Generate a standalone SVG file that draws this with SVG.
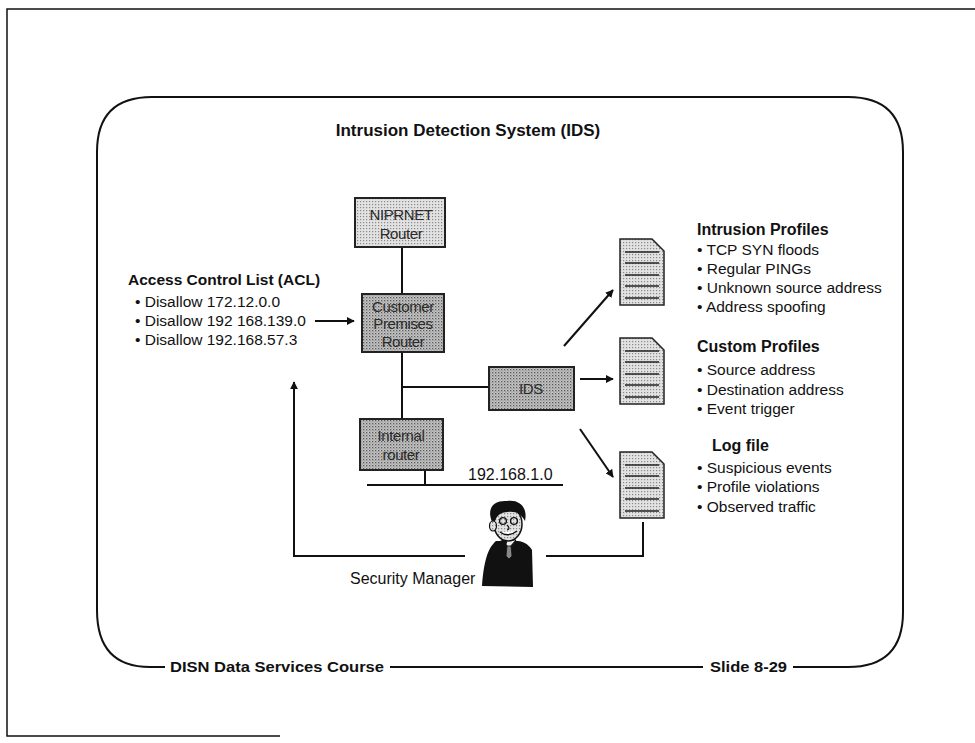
<svg xmlns="http://www.w3.org/2000/svg" width="975" height="743" viewBox="0 0 975 743">
  <style>
    text { font-family: "Liberation Sans", Arial, sans-serif; fill: #111; }
    .b { font-weight: bold; }
    .a { font-size: 15.5px; }
    .ah { font-size: 15.5px; font-weight: bold; }
    .r { font-size: 15.5px; }
    .rh { font-size: 16px; font-weight: bold; }
    .box text { font-size: 15px; text-anchor: middle; fill: #2a2a2a; letter-spacing: -0.4px; }
    .ln { stroke: #111; stroke-width: 2; fill: none; }
    .pg { stroke: #222; stroke-width: 1.5; fill: url(#dots); }
    .rl { stroke: #222; stroke-width: 1.6; }
  </style>
  <defs>
    <pattern id="dots" width="3" height="3" patternUnits="userSpaceOnUse">
      <rect width="3" height="3" fill="#e2e2e2"/>
      <rect x="0" y="0" width="1.2" height="1.2" fill="#8a8a8a"/>
    </pattern>
    <pattern id="dotsDark" width="3" height="3" patternUnits="userSpaceOnUse">
      <rect width="3" height="3" fill="#c4c4c4"/>
      <rect x="0" y="0" width="1.3" height="1.3" fill="#5a5a5a"/>
      <rect x="1.5" y="1.5" width="1" height="1" fill="#7a7a7a"/>
    </pattern>
    <marker id="ah" viewBox="0 0 10 10" refX="9" refY="5" markerWidth="8" markerHeight="8" orient="auto" markerUnits="userSpaceOnUse">
      <path d="M0,0 L10,5 L0,10 z" fill="#111"/>
    </marker>
  </defs>

  <rect width="975" height="743" fill="#fff"/>

  <!-- page frame -->
  <g id="frame" class="ln">
    <path d="M975,9 H7 V736 H280" stroke-width="1.5"/>
  </g>

  <!-- slide border with gaps for footer texts -->
  <g id="slide-border" class="ln" stroke-width="2.2">
    <path d="M165,667 H150 Q97,667 97,610 V152 Q97,97 152,97 H848 Q903,97 903,152 V612 Q903,667 848,667 H793"/>
    <line x1="390" y1="667" x2="703" y2="667"/>
  </g>

  <text x="468" y="136" class="b" font-size="17" text-anchor="middle">Intrusion Detection System (IDS)</text>

  <!-- connectors -->
  <g id="connectors">
    <line class="ln" x1="402" y1="247" x2="402" y2="294"/>
    <line class="ln" x1="402" y1="352" x2="402" y2="419"/>
    <line class="ln" x1="402" y1="387" x2="489" y2="387"/>
    <line class="ln" x1="425" y1="470" x2="425" y2="485"/>
    <line class="ln" x1="367" y1="485" x2="563" y2="485"/>
    <line class="ln" x1="315" y1="321" x2="354" y2="321" marker-end="url(#ah)"/>
    <line class="ln" x1="564" y1="346" x2="613" y2="290" marker-end="url(#ah)"/>
    <line class="ln" x1="580" y1="379" x2="613" y2="379" marker-end="url(#ah)"/>
    <line class="ln" x1="580" y1="429" x2="613" y2="477" marker-end="url(#ah)"/>
    <path class="ln" d="M465,556 H294 V382" marker-end="url(#ah)"/>
    <path class="ln" d="M546,556 H643 V522"/>
  </g>

  <!-- routers and IDS -->
  <g id="niprnet-router" class="box">
    <rect x="355" y="198" width="90" height="49" fill="url(#dots)" stroke="#222" stroke-width="2"/>
    <text x="401" y="220">NIPRNET</text>
    <text x="401" y="239">Router</text>
  </g>
  <g id="cpe-router" class="box">
    <rect x="362" y="294" width="82" height="58" fill="url(#dotsDark)" stroke="#222" stroke-width="2"/>
    <text x="403" y="312">Customer</text>
    <text x="403" y="329">Premises</text>
    <text x="403" y="347">Router</text>
  </g>
  <g id="ids" class="box">
    <rect x="489" y="367" width="85" height="43" fill="url(#dotsDark)" stroke="#222" stroke-width="2"/>
    <text x="531" y="394">IDS</text>
  </g>
  <g id="internal-router" class="box">
    <rect x="360" y="419" width="83" height="51" fill="url(#dotsDark)" stroke="#222" stroke-width="2"/>
    <text x="401" y="441">Internal</text>
    <text x="401" y="460">router</text>
  </g>
  <text x="468" y="480" font-size="16">192.168.1.0</text>

  <!-- ACL -->
  <g id="acl">
    <text x="128" y="285" class="ah">Access Control List (ACL)</text>
    <text x="135" y="307" class="a">• Disallow 172.12.0.0</text>
    <text x="135" y="326" class="a">• Disallow 192 168.139.0</text>
    <text x="135" y="345" class="a">• Disallow 192.168.57.3</text>
  </g>

  <!-- profile documents -->
  <g id="doc-intrusion" transform="translate(620,239)">
    <path class="pg" d="M0,0 H32 L44,12 V66 H0 Z"/>
    <path class="rl" d="M5,13 H39 M5,24 H39 M5,36 H39 M5,47 H39 M5,59 H39"/>
  </g>
  <g id="doc-custom" transform="translate(620,338)">
    <path class="pg" d="M0,0 H32 L44,12 V66 H0 Z"/>
    <path class="rl" d="M5,13 H39 M5,24 H39 M5,36 H39 M5,47 H39 M5,59 H39"/>
  </g>
  <g id="doc-log" transform="translate(620,452)">
    <path class="pg" d="M0,0 H32 L44,12 V66 H0 Z"/>
    <path class="rl" d="M5,13 H39 M5,24 H39 M5,36 H39 M5,47 H39 M5,59 H39"/>
  </g>

  <g id="intrusion-profiles">
    <text x="697" y="235" class="rh">Intrusion Profiles</text>
    <text x="697" y="255" class="r">• TCP SYN floods</text>
    <text x="697" y="274" class="r">• Regular PINGs</text>
    <text x="697" y="293" class="r">• Unknown source address</text>
    <text x="697" y="312" class="r">• Address spoofing</text>
  </g>
  <g id="custom-profiles">
    <text x="697" y="352" class="rh">Custom Profiles</text>
    <text x="697" y="375" class="r">• Source address</text>
    <text x="697" y="395" class="r">• Destination address</text>
    <text x="697" y="414" class="r">• Event trigger</text>
  </g>
  <g id="log-file">
    <text x="712" y="451" class="rh">Log file</text>
    <text x="697" y="473" class="r">• Suspicious events</text>
    <text x="697" y="492" class="r">• Profile violations</text>
    <text x="697" y="512" class="r">• Observed traffic</text>
  </g>

  <!-- security manager -->
  <g id="security-manager">
    <!-- suit -->
    <path d="M496,541 C488,548 484,560 482,586 L533,587 L532,550 C528,543 520,540 512,541 Z" fill="#111"/>
    <!-- collar and tie -->
    <path d="M502,540 L509,548 L516,540 Z" fill="#eee" stroke="#111" stroke-width="1"/>
    <path d="M507,546 L511,546 L512,556 L509,559 L506,556 Z" fill="#888" stroke="#111" stroke-width="0.8"/>
    <!-- face -->
    <ellipse cx="508" cy="524" rx="14" ry="17" fill="url(#dots)" stroke="#111" stroke-width="1.5"/>
    <!-- hair -->
    <path d="M492,522 C486,507 495,500 507,501 C519,499 528,507 525,521 C521,514 516,511 508,512 C500,512 496,516 494,524 Z" fill="#111"/>
    <!-- ear -->
    <ellipse cx="493" cy="526" rx="3.5" ry="5" fill="url(#dots)" stroke="#111" stroke-width="1.2"/>
    <!-- glasses, nose, mouth -->
    <circle cx="503" cy="521" r="3.4" fill="none" stroke="#111" stroke-width="1.4"/>
    <circle cx="514" cy="521" r="3.4" fill="none" stroke="#111" stroke-width="1.4"/>
    <path d="M507,525 Q511,529 507,530" fill="none" stroke="#111" stroke-width="1.2"/>
    <path d="M500,532 Q508,538 517,531" fill="#fff" stroke="#111" stroke-width="1.4"/>
    <!-- hand at chin -->
    <path d="M490,553 C493,545 501,538 507,540 C508,547 500,553 495,557 Z" fill="#111"/>
  </g>
  <text x="350" y="584" font-size="16">Security Manager</text>

  <!-- footer -->
  <text x="170" y="672" class="b" font-size="15" textLength="214" lengthAdjust="spacingAndGlyphs">DISN Data Services Course</text>
  <text x="710" y="672" class="b" font-size="15" textLength="77" lengthAdjust="spacingAndGlyphs">Slide 8-29</text>
</svg>
